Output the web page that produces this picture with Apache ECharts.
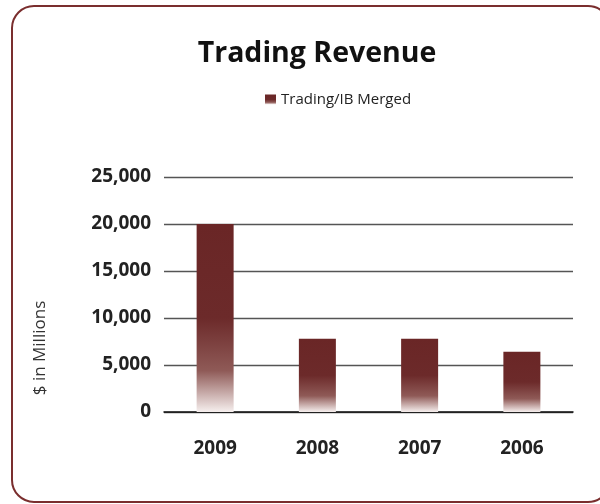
<!DOCTYPE html>
<html>
<head>
<meta charset="utf-8">
<script src="https://cdn.jsdelivr.net/npm/echarts@6/dist/echarts.min.js"></script>
<style>html,body{margin:0;padding:0;background:#fff}#c{width:600px;height:504px}</style>
</head>
<body>
<div id="c"></div>
<script>
var categories = ['2009', '2008', '2007', '2006'];
var seriesName = 'Trading/IB Merged';
var values = [20000, 7800, 7800, 6400];
var yTicks = { min: 0, max: 25000, interval: 5000 };

var chart = echarts.init(document.getElementById('c'));
var font = '"Open Sans", "Noto Sans", sans-serif';
var barGrad = new echarts.graphic.LinearGradient(0, 0, 0, 1, [
  { offset: 0, color: '#6a2626' },
  { offset: 0.5, color: '#6c2a2a' },
  { offset: 0.78, color: '#8f5a57' },
  { offset: 1, color: '#f6efee' }
]);
chart.setOption({
  animation: false,
  backgroundColor: '#fff',
  textStyle: { fontFamily: font },
  title: {
    text: 'Trading Revenue',
    left: 312, textAlign: 'center', top: 34,
    textStyle: { fontFamily: font, fontSize: 28.5, fontWeight: 'bold', color: '#111' }
  },
  legend: {
    data: [seriesName],
    left: 260, top: 87,
    itemWidth: 11, itemHeight: 10, itemGap: 6,
    icon: 'rect',
    textStyle: { fontFamily: font, fontSize: 15, color: '#222' }
  },
  grid: { left: 164, right: 27, top: 177, bottom: 92 },
  xAxis: {
    type: 'category',
    data: categories,
    axisLine: { lineStyle: { color: '#111', width: 1.5 } },
    axisTick: { show: false },
    axisLabel: { fontFamily: font, fontSize: 19, fontWeight: 'bold', color: '#222', margin: 27 }
  },
  yAxis: {
    type: 'value',
    min: yTicks.min, max: yTicks.max, interval: yTicks.interval,
    axisLine: { show: false },
    axisTick: { show: false },
    splitLine: { lineStyle: { color: '#555', width: 1.3 } },
    axisLabel: {
      fontFamily: font, fontSize: 19, fontWeight: 'bold', color: '#222', margin: 13,
      formatter: function (v) { return v.toLocaleString('en-US'); }
    }
  },
  series: [{
    name: seriesName,
    type: 'bar',
    data: values,
    barWidth: 37,
    itemStyle: { color: barGrad }
  }],
  graphic: [
    {
      type: 'rect', silent: true, z: -1,
      shape: { x: 12, y: 6, width: 598, height: 496, r: 22 },
      style: { fill: 'none', stroke: '#7a2e2e', lineWidth: 2 }
    },
    {
      type: 'text', x: 40, y: 348, rotation: Math.PI / 2,
      style: {
        text: '$ in Millions', fontFamily: font, fontSize: 17, fill: '#333',
        align: 'center', verticalAlign: 'middle'
      }
    }
  ]
});
</script>
</body>
</html>
